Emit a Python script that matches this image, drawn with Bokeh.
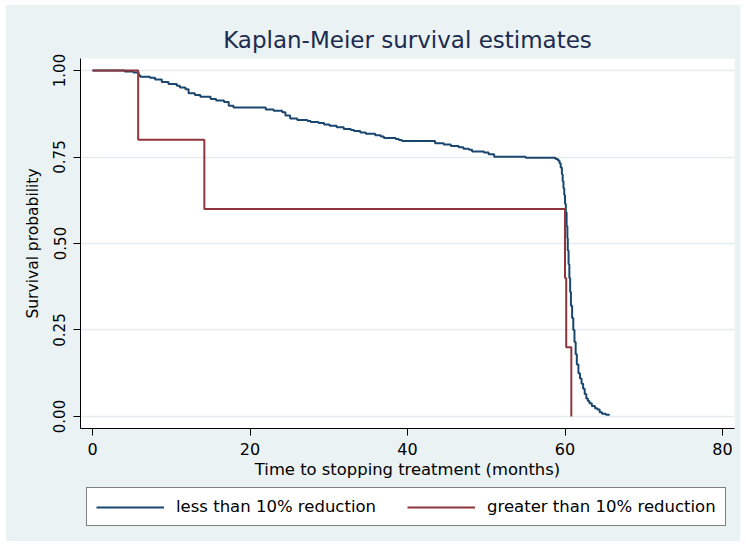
from bokeh.plotting import figure
from bokeh.layouts import column
from bokeh.models import FixedTicker, Legend, LegendItem, Range1d
from bokeh.embed import file_html
from bokeh.resources import INLINE

# ---- data ----
group_labels = ["less than 10% reduction", "greater than 10% reduction"]

less_time = [0, 4.1, 5.2, 5.85, 6.05, 7.3, 7.95, 8.8, 9.65, 10.7, 11.1, 11.8, 12.2, 13.0,
             13.7, 15.0, 15.7, 16.7, 17.3, 17.9, 22.0, 23.0, 24.1, 24.5, 25.1, 26.0, 27.3,
             27.7, 28.7, 29.4, 30.1, 31.0, 31.9, 32.8, 33.2, 34.0, 34.7, 35.9, 36.6, 37.0,
             38.5, 38.9, 39.3, 43.5, 44.6, 45.5, 46.5, 47.1, 47.8, 48.2, 49.7, 50.3, 51.0,
             55.0, 58.8, 59.1, 59.3, 59.45, 59.6, 59.7, 59.8, 59.9, 60.0, 60.1, 60.2, 60.3,
             60.35, 60.45, 60.55, 60.65, 60.75, 60.9, 61.05, 61.2, 61.35, 61.5, 61.7, 61.9,
             62.1, 62.3, 62.5, 62.7, 62.9, 63.1, 63.4, 63.8, 64.1, 64.4, 64.7, 65.2, 65.6]
less_surv = [1.0, 0.997, 0.994, 0.986, 0.982, 0.979, 0.974, 0.967, 0.961, 0.956, 0.951, 0.946,
             0.934, 0.929, 0.924, 0.918, 0.913, 0.909, 0.898, 0.893, 0.887, 0.884, 0.879,
             0.870, 0.861, 0.857, 0.854, 0.851, 0.848, 0.844, 0.840, 0.836, 0.831, 0.828,
             0.825, 0.821, 0.817, 0.813, 0.809, 0.805, 0.802, 0.799, 0.796, 0.790, 0.786,
             0.782, 0.778, 0.774, 0.771, 0.766, 0.763, 0.758, 0.751, 0.748, 0.744, 0.740,
             0.732, 0.720, 0.700, 0.680, 0.660, 0.640, 0.615, 0.590, 0.550, 0.515, 0.480,
             0.440, 0.400, 0.360, 0.320, 0.285, 0.250, 0.215, 0.180, 0.150, 0.125, 0.110,
             0.095, 0.080, 0.065, 0.052, 0.045, 0.038, 0.030, 0.024, 0.020, 0.012, 0.008,
             0.005, 0.003]

greater_time = [0, 5.8, 14.2, 60.0, 60.15, 60.8]
greater_surv = [1.0, 0.8, 0.6, 0.4, 0.2, 0.0]

x_ticks = [0, 20, 40, 60, 80]
y_ticks = [0.0, 0.25, 0.5, 0.75, 1.0]
y_tick_labels = ["0.00", "0.25", "0.50", "0.75", "1.00"]

FONT = "DejaVu Sans"
NAVY = "#1A476F"
MAROON = "#90353B"
BG = "#EAF2F3"

# ---------------- main plot ----------------
p = figure(frame_width=654, frame_height=370,
           output_backend="svg", toolbar_location=None,
           x_range=Range1d(-1.524, 81.52), y_range=Range1d(-0.0347, 1.0347),
           min_border_left=74, min_border_right=6, min_border_top=53, min_border_bottom=57,
           background_fill_color="white", border_fill_color=BG, outline_line_color=None)

p.title.text = "Kaplan-Meier survival estimates"
p.title.align = "center"
p.title.text_font = FONT
p.title.text_font_size = "23px"
p.title.text_font_style = "normal"
p.title.text_color = "#1C2B4F"
p.title.offset = 3
p.title.standoff = 12

p.step(less_time, less_surv, mode="after", line_color=NAVY, line_width=2)
p.step(greater_time, greater_surv, mode="after", line_color=MAROON, line_width=2)

p.xaxis.ticker = FixedTicker(ticks=x_ticks)
p.yaxis.ticker = FixedTicker(ticks=y_ticks)
p.yaxis.major_label_overrides = {t: l for t, l in zip(y_ticks, y_tick_labels)}
p.xaxis.major_label_overrides = {t: str(t) for t in x_ticks}

for ax in (p.xaxis[0], p.yaxis[0]):
    ax.axis_line_color = "black"
    ax.axis_line_width = 1
    ax.major_tick_line_color = "black"
    ax.major_tick_in = 0
    ax.major_tick_out = 7
    ax.minor_tick_line_color = None
    ax.major_label_text_font = FONT
    ax.major_label_text_color = "black"
    ax.axis_label_text_font = FONT
    ax.axis_label_text_font_style = "normal"
    ax.axis_label_text_color = "black"

p.xaxis.axis_label = "Time to stopping treatment (months)"
p.xaxis.axis_label_text_font_size = "16.4px"
p.xaxis.major_label_text_font_size = "16px"
p.xaxis.major_label_standoff = 7
p.xaxis.axis_label_standoff = 2

p.yaxis.axis_label = "Survival probability"
p.yaxis.axis_label_text_font_size = "15.5px"
p.yaxis.major_label_text_font_size = "15px"
p.yaxis.major_label_orientation = "parallel"
p.yaxis.major_label_standoff = 8
p.yaxis.axis_label_standoff = 9

p.xgrid.grid_line_color = None
p.ygrid.grid_line_color = "#E3ECEE"
p.ygrid.grid_line_width = 1.3

# ---------------- legend strip ----------------
lg = figure(frame_width=734, frame_height=56,
            output_backend="svg", toolbar_location=None,
            x_range=Range1d(0, 1), y_range=Range1d(0, 1),
            x_axis_type=None, y_axis_type=None,
            min_border=0, min_border_left=0, min_border_right=0,
            min_border_top=0, min_border_bottom=0,
            background_fill_color=BG, border_fill_color=BG, outline_line_color=None)
lg.xgrid.grid_line_color = None
lg.ygrid.grid_line_color = None
# key renderers: drawn outside the visible range, used only for the legend keys
k1 = lg.line(x=[-5, -4], y=[-5, -4], line_color=NAVY, line_width=2)
k2 = lg.line(x=[-5, -4], y=[-5, -4], line_color=MAROON, line_width=2)

legend = Legend(items=[LegendItem(label=group_labels[0], renderers=[k1]),
                       LegendItem(label=group_labels[1], renderers=[k2])],
                orientation="horizontal", location=(80, 15),
                border_line_color="black", border_line_width=1,
                background_fill_color="white", background_fill_alpha=1,
                label_text_font=FONT, label_text_font_size="16.5px",
                label_text_color="black",
                glyph_width=68, glyph_height=18, label_standoff=12,
                spacing=31, padding=9, margin=0)
lg.add_layout(legend, "center")

layout = column(p, lg, spacing=0, margin=(5, 6, 5, 6),
                styles={"background-color": BG})
open("out.html", "w").write(file_html(layout, INLINE))
